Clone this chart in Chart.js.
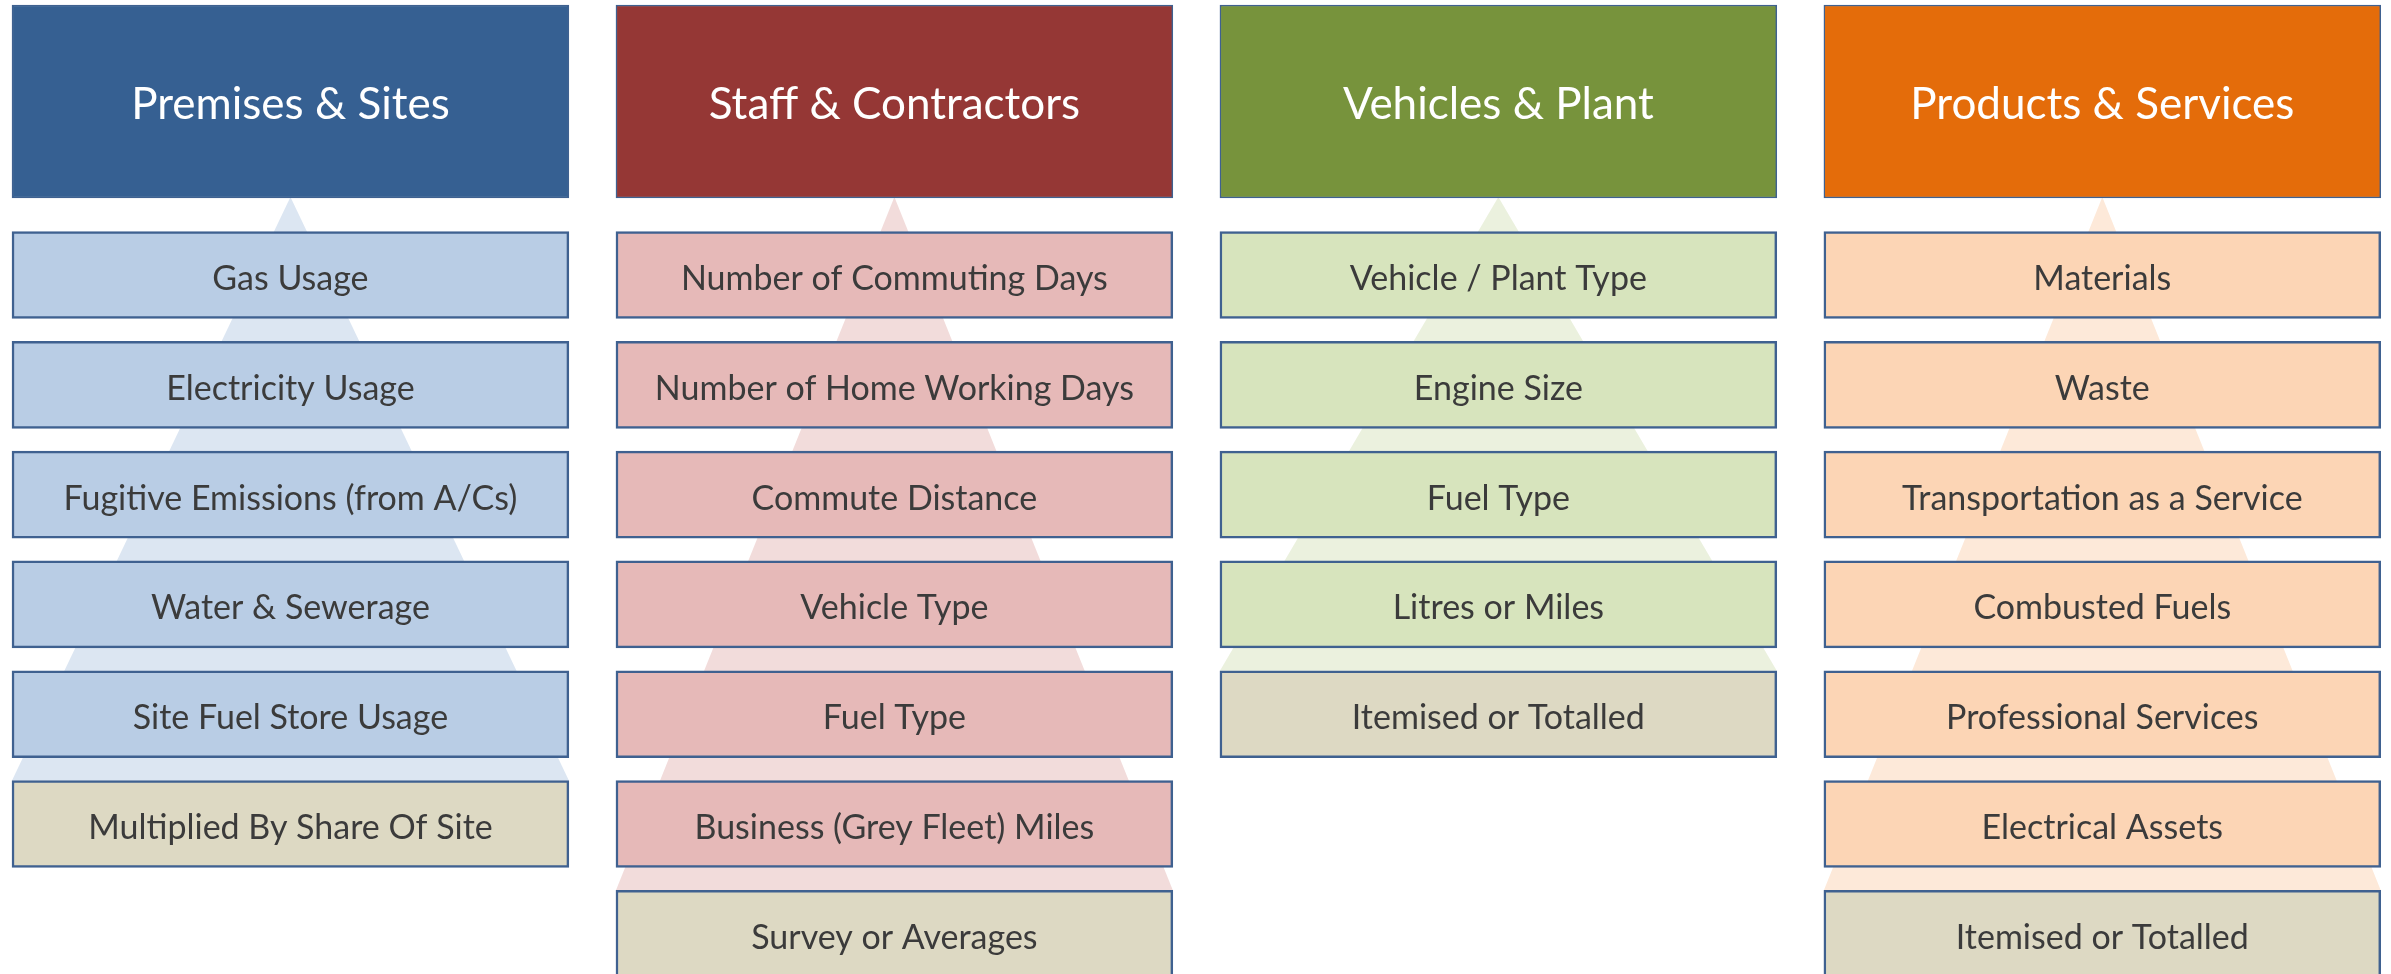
<!DOCTYPE html>
<html>
<head>
<meta charset="utf-8">
<script src="https://cdn.jsdelivr.net/npm/chart.js@4.4.0/dist/chart.umd.min.js"></script>
<style>
  html, body { margin: 0; padding: 0; background: #ffffff; }
  #wrap { width: 2391px; height: 974px; position: relative; }
</style>
</head>
<body>
<div id="wrap"><canvas id="chart"></canvas></div>
<script>
const HEADERS = ["Premises & Sites", "Staff & Contractors", "Vehicles & Plant", "Products & Services"];
const ITEMS_PREMISES = ["Gas Usage", "Electricity Usage", "Fugitive Emissions (from A/Cs)", "Water & Sewerage",
  "Site Fuel Store Usage", "Multiplied By Share Of Site"];
const ITEMS_STAFF = ["Number of Commuting Days", "Number of Home Working Days", "Commute Distance", "Vehicle Type",
  "Fuel Type", "Business (Grey Fleet) Miles", "Survey or Averages"];
const ITEMS_VEHICLES = ["Vehicle / Plant Type", "Engine Size", "Fuel Type", "Litres or Miles", "Itemised or Totalled"];
const ITEMS_PRODUCTS = ["Materials", "Waste", "Transportation as a Service", "Combusted Fuels",
  "Professional Services", "Electrical Assets", "Itemised or Totalled"];
const ITEMS = [ITEMS_PREMISES, ITEMS_STAFF, ITEMS_VEHICLES, ITEMS_PRODUCTS];

const HEADER_COLORS = ["#366092", "#953735", "#77933c", "#e46c0a"];
const ITEM_COLORS = ["#b9cde5", "#e6b9b8", "#d7e4bd", "#fcd5b5"];
const LAST_COLOR = "#ddd9c3";
const CONE_COLORS = ["#dce6f2", "#f2dcdb", "#ebf1de", "#fde9d9"];
const BORDER_COLOR = "#3f6190";
const TEXT_COLOR = "#3b3b3b";
const FONT_FAMILY = "Lato, 'Open Sans', sans-serif";

// layout in axis units: one column = 1 on x, one row = 1 on y
const COL_WIDTH = 0.922;
const HEADER_ROW = -0.58;
const CONE_TOP = 0.29;
const HALF_BOX = 0.396;

const datasets = [];

datasets.push({
  type: "bar",
  indexAxis: "y",
  data: HEADERS.map((h, i) => ({ x: [i, i + COL_WIDTH], y: HEADER_ROW })),
  backgroundColor: HEADER_COLORS,
  borderColor: BORDER_COLOR,
  borderWidth: 1.5,
  borderSkipped: false,
  barThickness: 193,
  grouped: false,
  order: 0,
  labels: HEADERS,
  labelColor: "#ffffff",
  labelFont: "44px " + FONT_FAMILY,
  labelShift: 3,
});

ITEMS.forEach((items, i) => {
  datasets.push({
    type: "bar",
    indexAxis: "y",
    data: items.map((t, k) => ({ x: [i, i + COL_WIDTH], y: k + 1 })),
    backgroundColor: items.map((t, k) => (k === items.length - 1 ? LAST_COLOR : ITEM_COLORS[i])),
    borderColor: BORDER_COLOR,
    borderWidth: 2.5,
    borderSkipped: false,
    barThickness: 87,
    grouped: false,
    order: 0,
    labels: items,
    labelColor: TEXT_COLOR,
    labelFont: "34px " + FONT_FAMILY,
    labelShift: 4,
  });
});

// faint cone behind each column, from header bottom to the top of the last box
ITEMS.forEach((items, i) => {
  const base = items.length - HALF_BOX;
  datasets.push({
    type: "line",
    indexAxis: "x",
    data: [
      { x: i + COL_WIDTH / 2, y: CONE_TOP },
      { x: i, y: base },
      { x: i + COL_WIDTH, y: base },
      { x: i + COL_WIDTH / 2, y: CONE_TOP },
    ],
    fill: "shape",
    backgroundColor: CONE_COLORS[i],
    borderWidth: 0,
    pointRadius: 0,
    tension: 0,
    order: 1,
  });
});

const boxLabels = {
  id: "boxLabels",
  afterDatasetsDraw(chart) {
    const ctx = chart.ctx;
    chart.data.datasets.forEach((ds, di) => {
      if (!ds.labels) return;
      const meta = chart.getDatasetMeta(di);
      ctx.save();
      ctx.font = ds.labelFont;
      ctx.fillStyle = ds.labelColor;
      ctx.textAlign = "center";
      ctx.textBaseline = "middle";
      meta.data.forEach((bar, k) => {
        ctx.fillText(ds.labels[k], (bar.x + bar.base) / 2, bar.y + ds.labelShift);
      });
      ctx.restore();
    });
  },
};

let chart = new Chart(document.getElementById("chart"), {
  type: "bar",
  data: { datasets: datasets },
  options: {
    indexAxis: "y",
    responsive: true,
    maintainAspectRatio: false,
    animation: false,
    layout: { padding: 0 },
    plugins: { legend: { display: false }, tooltip: { enabled: false } },
    scales: {
      x: { type: "linear", min: -0.0199, max: 3.939, offset: false, display: false },
      y: { type: "linear", min: -1.5046, max: 7.366, reverse: true, offset: false, display: false },
    },
  },
  plugins: [boxLabels],
});
</script>
</body>
</html>
